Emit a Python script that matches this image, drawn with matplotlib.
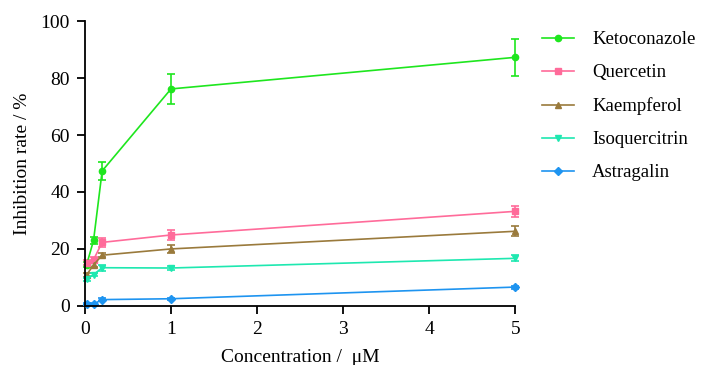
import matplotlib
matplotlib.use("Agg")
import matplotlib.pyplot as plt
from matplotlib.lines import Line2D

conc = [0.02, 0.1, 0.2, 1, 5]
names = ["Ketoconazole", "Quercetin", "Kaempferol", "Isoquercitrin", "Astragalin"]
ketoconazole = [14.5, 23.0, 47.4, 76.2, 87.3]
ketoconazole_err = [0.8, 1.2, 3.1, 5.2, 6.6]
quercetin = [15.2, 16.2, 22.3, 24.9, 33.2]
quercetin_err = [0.8, 1.0, 1.5, 1.6, 2.0]
kaempferol = [10.9, 14.4, 17.8, 20.0, 26.2]
kaempferol_err = [0.6, 0.8, 0.8, 1.4, 1.8]
isoquercitrin = [9.3, 11.0, 13.4, 13.3, 16.7]
isoquercitrin_err = [0.6, 0.5, 1.0, 0.6, 1.0]
astragalin = [0.6, 0.6, 2.2, 2.5, 6.6]
astragalin_err = [0.3, 0.3, 0.4, 0.4, 0.5]

colors = ["#1ee61e", "#ff6b9a", "#9a7a3c", "#1ee8b0", "#1e94f0"]
markers = ["o", "s", "^", "v", "D"]
sizes = [4.5, 4.5, 4.5, 4.5, 3.8]

plt.rcParams["font.family"] = ["Liberation Serif", "DejaVu Serif"]

fig = plt.figure(figsize=(7.02, 3.65), dpi=100)
ax = fig.add_axes([0.121, 0.162, 0.613, 0.78])

series = [ketoconazole, quercetin, kaempferol, isoquercitrin, astragalin]
errs = [ketoconazole_err, quercetin_err, kaempferol_err, isoquercitrin_err, astragalin_err]
handles = []
for name, y, e, c, m, s in zip(names, series, errs, colors, markers, sizes):
    ax.errorbar(conc, y, yerr=e, color=c, marker=m, markersize=s, lw=1.2,
                capsize=3, elinewidth=1.2, capthick=1.2, clip_on=False)
    handles.append(Line2D([], [], color=c, marker=m, markersize=s, lw=1.2, label=name))

ax.set_xlim(0, 5)
ax.set_ylim(0, 100)
ax.set_xticks(range(0, 6))
ax.set_yticks(range(0, 101, 20))
for side in ["top", "right"]:
    ax.spines[side].set_visible(False)
for side in ["left", "bottom"]:
    ax.spines[side].set_linewidth(1.3)
ax.tick_params(direction="out", length=6, width=1.3, labelsize=14, colors="black", pad=5)
ax.set_xlabel("Concentration /  \u03bcM", fontsize=14, labelpad=8)
ax.set_ylabel("Inhibition rate / %", fontsize=14, labelpad=7)

ax.legend(handles=handles, loc="upper left", bbox_to_anchor=(1.024, 1.024), frameon=False,
          fontsize=13.5, handlelength=1.7, labelspacing=0.85, handletextpad=0.95)

fig.savefig("out.png", dpi=100)
